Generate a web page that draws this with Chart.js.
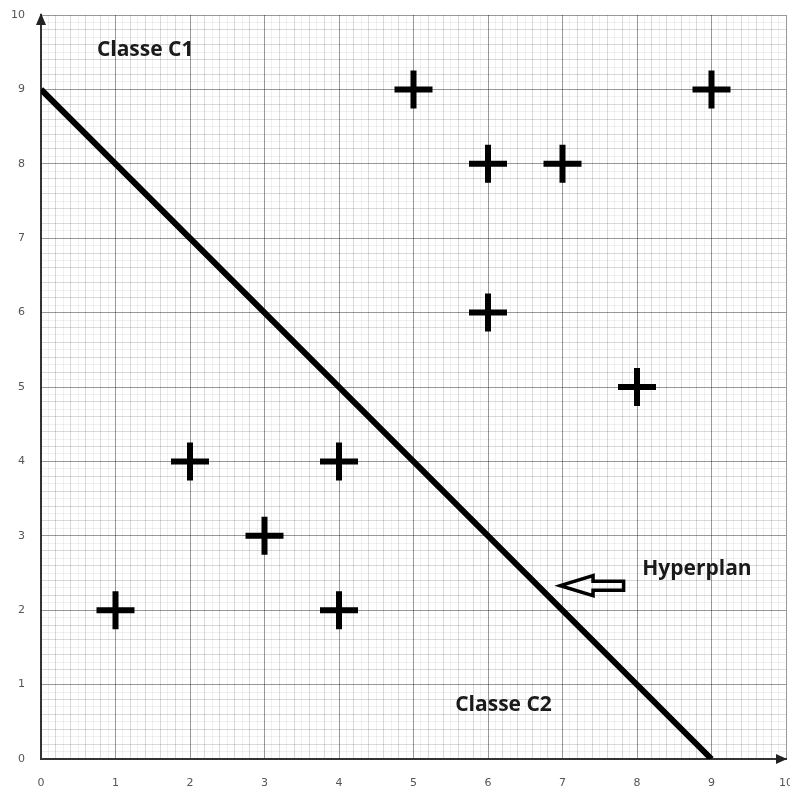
<!DOCTYPE html>
<html>
<head>
<meta charset="utf-8">
<script src="https://cdn.jsdelivr.net/npm/chart.js@4"></script>
<style>
  html, body { margin: 0; padding: 0; background: #fff; }
</style>
</head>
<body>
<canvas id="chart" width="790" height="789"></canvas>
<script>
// points of the two classes
const classC1X = [5, 9, 6, 7, 6, 8];
const classC1Y = [9, 9, 8, 8, 6, 5];
const classC2X = [2, 4, 3, 1, 4];
const classC2Y = [4, 4, 3, 2, 2];
// separating line
const hyperplanX = [0, 9];
const hyperplanY = [9, 0];
// labelled ticks on both axes
const axisTicks = [0, 1, 2, 3, 4, 5, 6, 7, 8, 9, 10];

const toPoints = (xs, ys) => xs.map((x, i) => ({ x: x, y: ys[i] }));

// graph-paper grid: integer lines darker, 0.2 lines medium, 0.1 lines faint
function gridColor(ctx) {
  const v = Math.round(ctx.tick.value * 10);
  if (v % 10 === 0) return "rgba(0,0,0,0.4)";
  if (v % 2 === 0) return "rgba(0,0,0,0.15)";
  return "rgba(0,0,0,0.06)";
}

function tickLabel(v) {
  const r = Math.round(v * 10) / 10;
  return axisTicks.includes(r) ? String(r) : "";
}

const textFont = "bold 21px 'Open Sans'";

// texts, arrow and axis arrowheads
const annotations = {
  id: "annotations",
  afterDatasetsDraw(chart) {
    const { ctx, scales: { x, y }, chartArea } = chart;
    ctx.save();

    // axis arrowheads
    ctx.fillStyle = "#222";
    ctx.beginPath();
    ctx.moveTo(chartArea.left, chartArea.top - 2);
    ctx.lineTo(chartArea.left - 5, chartArea.top + 10);
    ctx.lineTo(chartArea.left + 5, chartArea.top + 10);
    ctx.closePath();
    ctx.fill();
    ctx.beginPath();
    ctx.moveTo(chartArea.right + 1, chartArea.bottom);
    ctx.lineTo(chartArea.right - 10, chartArea.bottom - 5);
    ctx.lineTo(chartArea.right - 10, chartArea.bottom + 5);
    ctx.closePath();
    ctx.fill();

    // labels
    ctx.font = textFont;
    ctx.fillStyle = "#1a1a1a";
    ctx.textBaseline = "middle";
    ctx.textAlign = "left";
    ctx.fillText("Classe C1", x.getPixelForValue(0.75), y.getPixelForValue(9.53));
    ctx.fillText("Classe C2", x.getPixelForValue(5.56), y.getPixelForValue(0.73));
    ctx.fillText("Hyperplan", x.getPixelForValue(8.07), y.getPixelForValue(2.55));

    // hollow arrow pointing at the line
    const tip = x.getPixelForValue(6.97);
    const headBack = x.getPixelForValue(7.41);
    const tail = x.getPixelForValue(7.82);
    const cy = y.getPixelForValue(2.33);
    ctx.strokeStyle = "#000";
    ctx.lineWidth = 3.5;
    ctx.lineJoin = "miter";
    ctx.beginPath();
    ctx.moveTo(tip, cy);
    ctx.lineTo(headBack, cy - 10);
    ctx.lineTo(headBack, cy - 4.5);
    ctx.lineTo(tail, cy - 4.5);
    ctx.lineTo(tail, cy + 4.5);
    ctx.lineTo(headBack, cy + 4.5);
    ctx.lineTo(headBack, cy + 10);
    ctx.closePath();
    ctx.stroke();

    ctx.restore();
  }
};

const tickFont = { family: "'DejaVu Sans'", size: 11 };

new Chart(document.getElementById("chart"), {
  type: "scatter",
  data: {
    datasets: [
      {
        type: "line",
        data: toPoints(hyperplanX, hyperplanY),
        borderColor: "#000",
        borderWidth: 6,
        pointRadius: 0,
        fill: false
      },
      {
        data: toPoints(classC1X, classC1Y),
        pointStyle: "cross",
        pointRadius: 19,
        borderWidth: 6,
        borderColor: "#000"
      },
      {
        data: toPoints(classC2X, classC2Y),
        pointStyle: "cross",
        pointRadius: 19,
        borderWidth: 6,
        borderColor: "#000"
      }
    ]
  },
  options: {
    responsive: false,
    animation: false,
    layout: { autoPadding: false, padding: { top: 15, right: 4, left: 0, bottom: 0 } },
    plugins: { legend: { display: false }, tooltip: { enabled: false } },
    scales: {
      x: {
        type: "linear",
        min: 0,
        max: 10,
        border: { color: "#333", width: 2 },
        grid: { color: gridColor, lineWidth: 1, drawTicks: false },
        ticks: {
          stepSize: 0.1,
          autoSkip: false,
          maxRotation: 0,
          padding: 18,
          color: "#555",
          font: tickFont,
          callback: tickLabel
        },
        afterFit(scale) { scale.height = 30; scale.paddingRight = 0; scale.paddingLeft = 0; }
      },
      y: {
        type: "linear",
        min: 0,
        max: 10,
        border: { color: "#333", width: 2 },
        grid: { color: gridColor, lineWidth: 1, drawTicks: false },
        ticks: {
          stepSize: 0.1,
          autoSkip: false,
          padding: 16,
          color: "#555",
          font: tickFont,
          callback: tickLabel
        },
        afterFit(scale) { scale.width = 41; scale.paddingTop = 0; scale.paddingBottom = 0; }
      }
    }
  },
  plugins: [annotations]
});
</script>
</body>
</html>
